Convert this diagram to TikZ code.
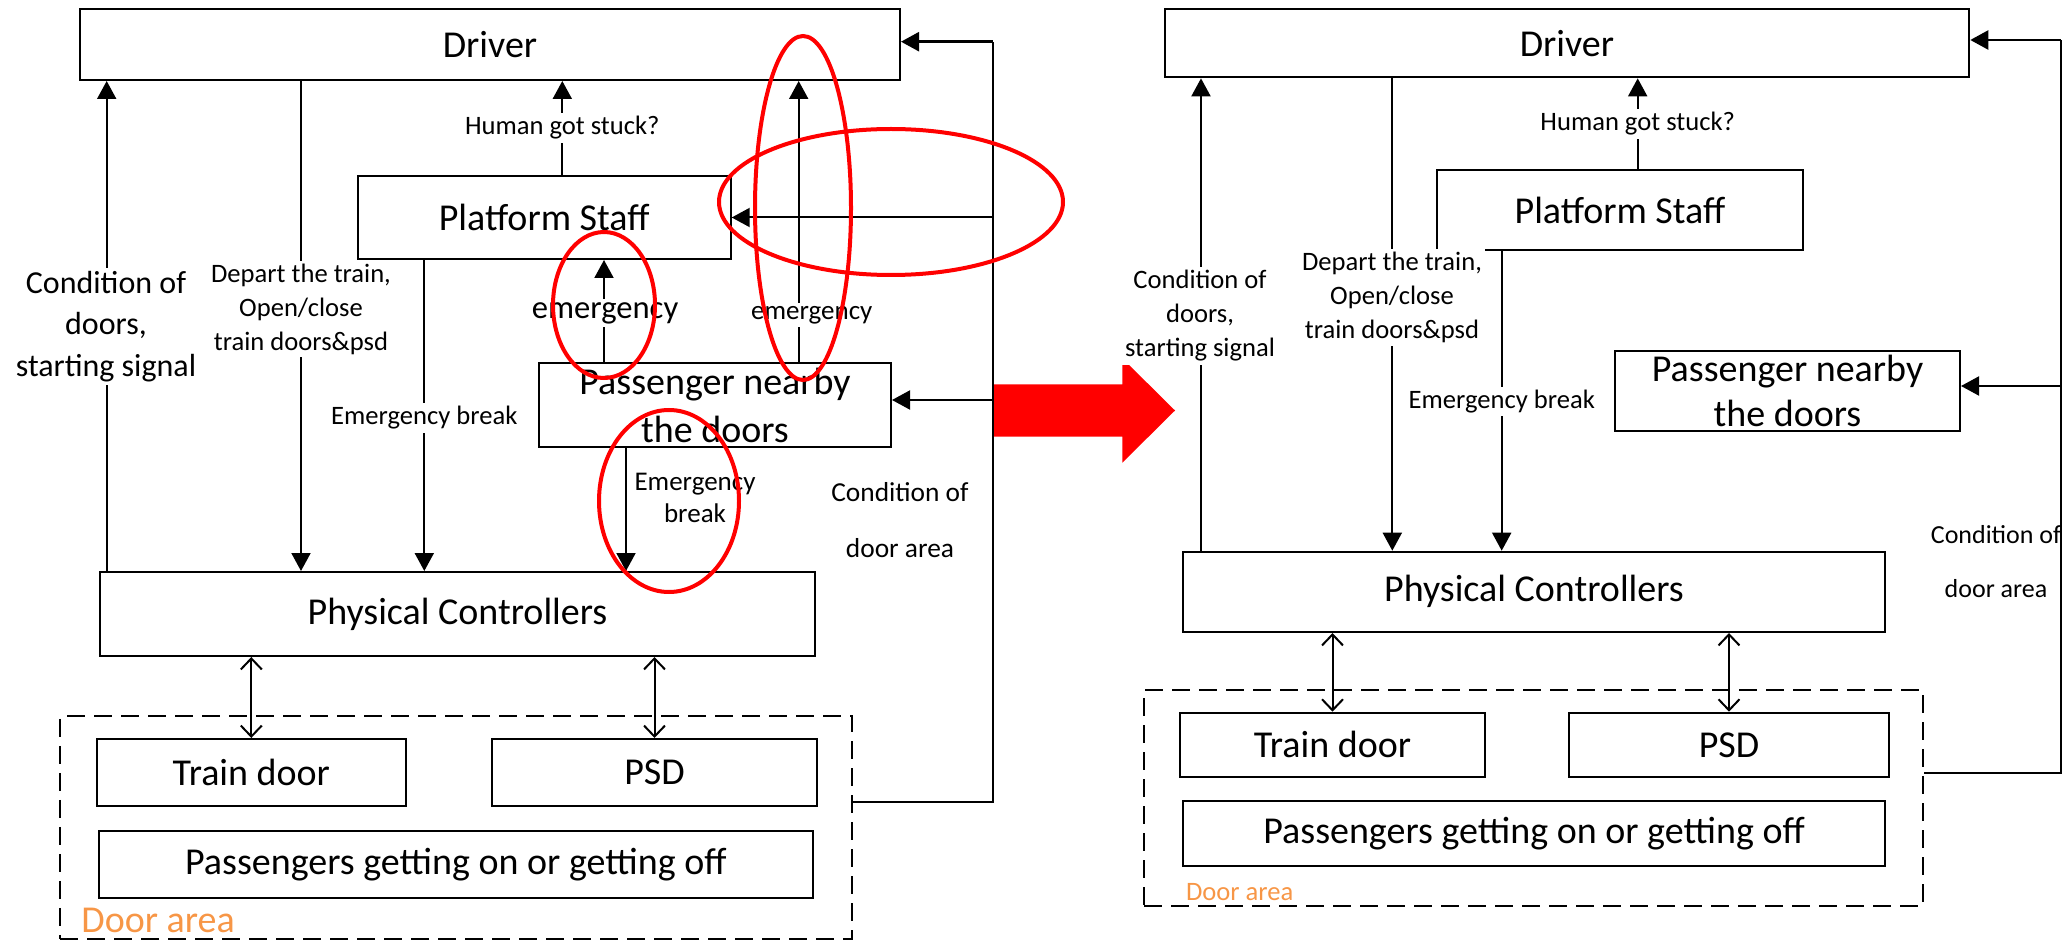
\documentclass[tikz,border=0pt]{standalone}
\usepackage{fontspec}
\setmainfont{Carlito}
\usetikzlibrary{arrows.meta}
\definecolor{areaorange}{RGB}{247,150,70}

\begin{document}
\begin{tikzpicture}[x=0.5pt,y=-0.5pt,
  box/.style={draw, line width=1pt, fill=white, inner sep=0pt, align=center,
              font=\fontsize{19}{24}\selectfont},
  area/.style={draw, line width=1pt, dash pattern=on 9pt off 4.5pt, inner sep=0pt},
  lbl/.style={fill=white, inner sep=1.5pt, align=center,
              font=\fontsize{13.3}{17}\selectfont},
  arr/.style={line width=1pt, -{Triangle[length=9pt,width=9.5pt]}},
  dbl/.style={line width=1pt,
              {Straight Barb[length=5.5pt,width=10.5pt]}-{Straight Barb[length=5.5pt,width=10.5pt]}},
  bus/.style={line width=1.2pt},
  ring/.style={draw=red, line width=2pt},
  arealbl/.style={text=areaorange, anchor=west, inner sep=0pt},
]
\useasboundingbox (0,0) rectangle (2063,941);

% ================= original control structure =================
\node[area, minimum width=395.8pt, minimum height=111.5pt] (Ldoor) at (456.2,827.5) {};
\node[box, minimum width=410pt,   minimum height=35.5pt] (Ldrv)  at (490,44.5)    {Driver};
\node[box, minimum width=186.5pt, minimum height=41.5pt] (Lps)   at (544.2,217.5) {Platform Staff};
\node[box, minimum width=176pt,   minimum height=42pt]   (Lpax)  at (715,405)     {Passenger nearby\\the doors};
\node[box, minimum width=357.5pt, minimum height=42pt]   (Lphys) at (457.5,614)   {Physical Controllers};
\node[box, minimum width=154.7pt, minimum height=33.5pt] (Ltd)   at (251.3,772.5) {Train door};
\node[box, minimum width=162.5pt, minimum height=33.5pt] (Lpsd)  at (654.5,772.5) {PSD};
\node[box, minimum width=357.2pt, minimum height=33.5pt] (Lpass) at (455.8,864.5) {Passengers getting on or getting off};

% x positions of the vertical links
\coordinate (xLcond) at (106.7,0);
\coordinate (xLdep)  at (301,0);
\coordinate (xLemb)  at (424.3,0);
\coordinate (xLhgs)  at (562.3,0);
\coordinate (xLem1)  at (604,0);
\coordinate (xLem2)  at (798.7,0);
\coordinate (xLpb)   at (626,0);
% feedback bus on the right
\coordinate (Lbt) at (992.7,41.7);
\coordinate (Lbb) at (992.7,801.7);
\coordinate (Lpaxy) at (0,400);

\draw[arr] (xLcond |- Lphys.north) -- (xLcond |- Ldrv.south);
\draw[arr] (xLdep |- Ldrv.south) -- (xLdep |- Lphys.north);
\draw[arr] (xLemb |- Lps.south) -- (xLemb |- Lphys.north);
\draw[arr] (xLhgs |- Lps.north) -- (xLhgs |- Ldrv.south);
\draw[arr] (xLem1 |- Lpax.north) -- (xLem1 |- Lps.south);
\draw[arr] (xLem2 |- Lpax.north) -- (xLem2 |- Ldrv.south);
\draw[arr] (xLpb |- Lpax.south) -- (xLpb |- Lphys.north);
\draw[dbl] (Ltd.north |- Lphys.south) -- (Ltd.north);
\draw[dbl] (Lpsd.north |- Lphys.south) -- (Lpsd.north);

\draw[bus] (Ldoor.east |- Lbb) -- (Lbb) -- (Lbt);
\draw[arr, line width=1.2pt] (Lbt) -- (Ldrv.east |- Lbt);
\draw[arr] (Lbt |- Lps.east) -- (Lps.east);
\draw[arr] (Lbt |- Lpaxy) -- (Lpax.east |- Lpaxy);

\node[lbl, font=\fontsize{16}{20.75}\selectfont] (LcondL) at (106,326.5) {Condition of\\doors,\\starting signal};
\node[lbl] (LdepL) at (301,309) {Depart the train,\\Open/close\\train doors\&psd};
\node[lbl] (LembL) at (424.3,418) {Emergency break};
\node[lbl] (LhgsL) at (562.3,128) {Human got stuck?};
\node[lbl, font=\fontsize{16.3}{20}\selectfont] (Lem1L) at (605,313) {emergency};
\node[lbl, font=\fontsize{13.5}{17}\selectfont] (Lem2L) at (811.7,315) {emergency};
\node[lbl, fill=none, font=\fontsize{13.5}{16}\selectfont] (LpbL) at (695,497.5) {Emergency\\break};
\node[lbl, fill=none, font=\fontsize{13.7}{28}\selectfont] (LcdaL) at (900,520.5) {Condition of\\door area};
\node[arealbl, font=\fontsize{19}{23}\selectfont] (LdoorL) at (81,920) {Door area};

% highlighted changes
\draw[ring] (891,202) ellipse [x radius=86pt, y radius=36.5pt];
\draw[ring] (803,208) ellipse [x radius=24pt, y radius=86pt];
\draw[ring] (604,305) ellipse [x radius=25.5pt, y radius=36.5pt];
\draw[ring] (669,501) ellipse [x radius=35pt, y radius=45.5pt];

% transition arrow
\fill[red] (994,384.3) -- (1122.3,384.3) -- (1122.3,358.3) -- (1175,410.5)
  -- (1122.3,462.7) -- (1122.3,436.7) -- (994,436.7) -- cycle;

% ================= revised control structure =================
\node[area, minimum width=389.5pt, minimum height=107.85pt] (Rdoor) at (1533.5,797.85) {};
\node[box, minimum width=402.4pt, minimum height=34.15pt] (Rdrv)  at (1566.9,43.2)  {Driver};
\node[box, minimum width=183.3pt, minimum height=40pt]    (Rps)   at (1620,210)     {Platform Staff};
\node[box, minimum width=172.5pt, minimum height=40.15pt, font=\fontsize{19}{22.5}\selectfont]
      (Rpax) at (1787.5,390.85) {Passenger nearby\\the doors};
\node[box, minimum width=351pt,   minimum height=40.15pt] (Rphys) at (1534,591.85)  {Physical Controllers};
\node[box, minimum width=152.5pt, minimum height=32.15pt] (Rtd)   at (1332.5,744.85) {Train door};
\node[box, minimum width=160pt,   minimum height=32.15pt] (Rpsd)  at (1729,744.85)  {PSD};
\node[box, minimum width=351pt,   minimum height=32.5pt]  (Rpass) at (1534,833.2)   {Passengers getting on or getting off};

\coordinate (xRcond) at (1201,0);
\coordinate (xRdep)  at (1392.3,0);
\coordinate (xRemb)  at (1501.7,0);
\coordinate (xRhgs)  at (1637.7,0);
\coordinate (Rbt) at (2060.7,40);
\coordinate (Rbb) at (2060.7,773);
\coordinate (Rpaxy) at (0,386);

\draw[arr] (xRcond |- Rphys.north) -- (xRcond |- Rdrv.south);
\draw[arr] (xRdep |- Rdrv.south) -- (xRdep |- Rphys.north);
\draw[arr] (xRemb |- Rps.south) -- (xRemb |- Rphys.north);
\draw[arr] (xRhgs |- Rps.north) -- (xRhgs |- Rdrv.south);
\draw[dbl] (Rtd.north |- Rphys.south) -- (Rtd.north);
\draw[dbl] (Rpsd.north |- Rphys.south) -- (Rpsd.north);

\node[lbl] (RcondL) at (1200,316) {Condition of\\doors,\\starting signal};
\node[lbl] (RdepL) at (1392,297.8) {Depart the train,\\Open/close\\train doors\&psd};
\node[lbl] (RembL) at (1501.7,401.7) {Emergency break};
\node[lbl] (RhgsL) at (1637.7,124) {Human got stuck?};
\node[lbl, fill=none, font=\fontsize{13}{27}\selectfont] (RcdaL) at (1996,562) {Condition of\\door area};
\node[arealbl, font=\fontsize{13.3}{16}\selectfont] (RdoorL) at (1185.6,892) {Door area};

\draw[bus] (Rdoor.east |- Rbb) -- (Rbb) -- (Rbt);
\draw[arr, line width=1.2pt] (Rbt) -- (Rdrv.east |- Rbt);
\draw[arr] (Rbt |- Rpaxy) -- (Rpax.east |- Rpaxy);
\end{tikzpicture}
\end{document}
